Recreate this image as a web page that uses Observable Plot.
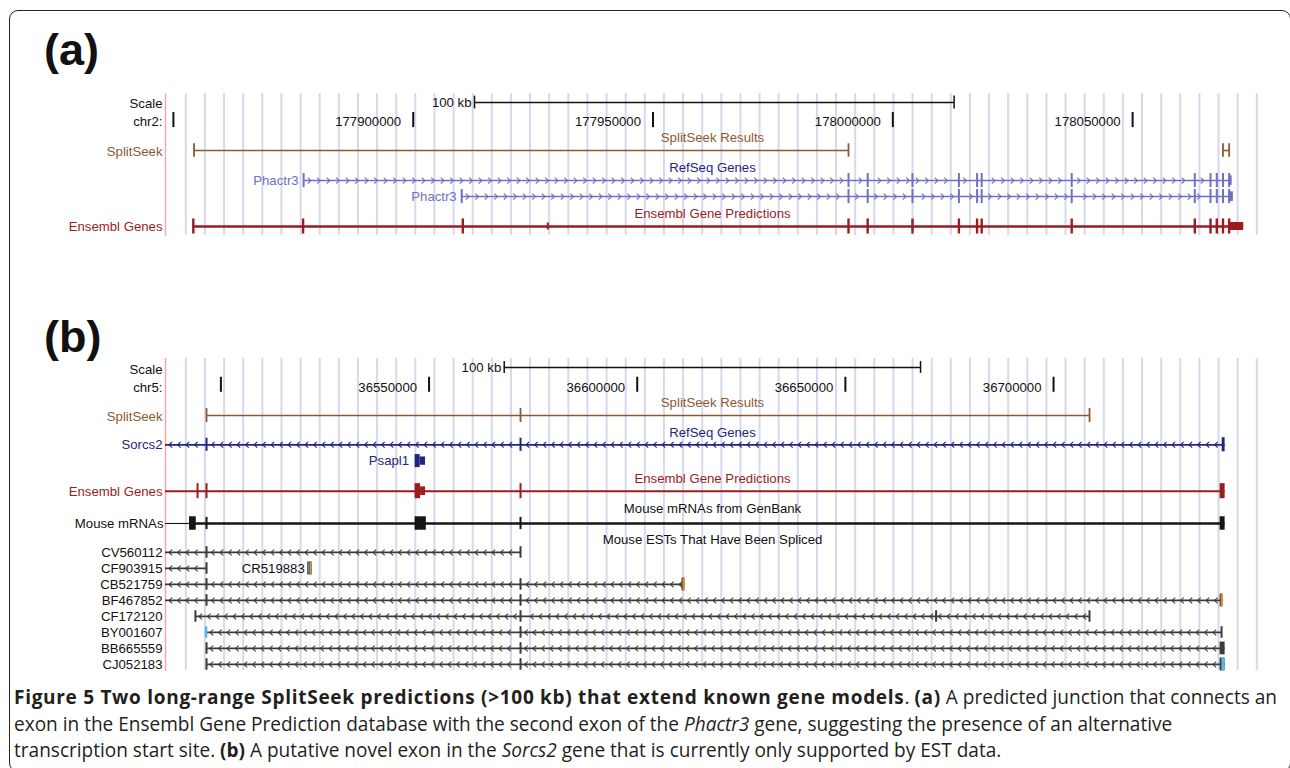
<!DOCTYPE html>
<html><head><meta charset="utf-8">
<script src="https://cdn.jsdelivr.net/npm/d3@7"></script>
<script src="https://cdn.jsdelivr.net/npm/@observablehq/plot@0.6"></script>
<style>
body{margin:0;background:#fff;width:1290px;height:768px;overflow:hidden;position:relative;font-family:"Liberation Sans",Arial,sans-serif}
#frame{position:absolute;left:9px;top:10px;width:1282px;height:762px;border:1.6px solid #222;border-radius:9px;box-sizing:border-box}
.plabel{position:absolute;left:44px;font:bold 45px "Liberation Sans",Arial,sans-serif;line-height:45px;color:#111}
.plot{position:absolute;left:0}
#caption{position:absolute;left:14px;top:684px;font-family:"Open Sans",sans-serif;font-size:16px;line-height:26.5px;color:#231f20;white-space:nowrap}
#caption span{display:inline-block}
</style></head>
<body>
<div id="frame"></div>
<div class="plabel" style="top:27px">(a)</div>
<div class="plabel" style="top:314px">(b)</div>
<div id="plotA" class="plot" style="top:80px"></div>
<div id="plotB" class="plot" style="top:350px"></div>
<div id="caption"><span id="l1"><b>Figure 5 Two long-range SplitSeek predictions (&gt;100 kb) that extend known gene models</b>. <b>(a)</b> A predicted junction that connects an</span><br><span id="l2">exon in the Ensembl Gene Prediction database with the second exon of the <i>Phactr3</i> gene, suggesting the presence of an alternative</span><br><span id="l3">transcription start site. <b>(b)</b> A putative novel exon in the <i>Sorcs2</i> gene that is currently only supported by EST data.</span></div>
<script>
// ================= DATA =================
// Panel (a): chr2 window
const viewA = [177848350, 178075830];
const chr2Ticks = [177850000, 177900000, 177950000, 178000000, 178050000];
const chr2TickLabels = ["", "177900000", "177950000", "178000000", "178050000"];
const scaleBarA = [177912780, 178012780];
const splitSeekA = [[177854300, 177990760], [178068840, 178070130]];
const phactr3Starts = [177877150, 177910110];
const phactr3Ends = [178070740, 178071000];
const phactr3Exons = [177990760, 177994760, 178004100, 178013780, 178017570, 178018530, 178037300, 178062960, 178066240, 178067550, 178068840, 178070130];
const ensemblASpan = [177854150, 178073160];
const ensemblAExons = [177854150, 177877040, 177910340, 177990760, 177994760, 178004100, 178013780, 178017570, 178018530, 178037300, 178062960, 178066240, 178067550, 178068840, 178070130];
const ensemblAUtrTicks = [177928060];
const ensemblALastBlock = [178070130, 178073160];
const gridA = {start: 177852585, step: 3987.6, count: 57};

// Panel (b): chr5 window
const viewB = [36486694, 36748749];
const chr5Ticks = [36500000, 36550000, 36600000, 36650000, 36700000];
const chr5TickLabels = ["", "36550000", "36600000", "36650000", "36700000"];
const scaleBarB = [36568055, 36668055];
const splitSeekB = [36496550, 36571970, 36708640];
const sorcs2End = 36741210;
const sorcs2Exons = [36496550, 36571970];
const sorcs2LastBlock = [36740510, 36741210];
const psapl1Tall = [36546650, 36547860];
const psapl1Short = [36547860, 36549150];
const ensemblBEnd = 36741210;
const ensemblBTicks = [36494390, 36496550, 36571970];
const ensemblBTall = [[36546650, 36547980], [36740010, 36741210]];
const ensemblBShort = [[36547980, 36549150]];
const mrnaStart = 36492470;
const mrnaEnd = 36741210;
const mrnaBlocks = [[36492470, 36494080], [36546650, 36549340], [36740010, 36741210]];
const mrnaTicks = [36496550, 36571970];
const estNames = ["CV560112", "CF903915", "CB521759", "BF467852", "CF172120", "BY001607", "BB665559", "CJ052183"];
const estStarts = [null, null, null, null, 36493880, 36496550, 36496550, 36496550];
const estEnds = [36571970, 36496550, 36611460, 36740700, 36708640, 36740360, 36741210, 36741210];
const estTicks = [
  [36496550, 36571970], [36496550], [36496550, 36571970], [36496550, 36571970],
  [36493880, 36571970, 36671790, 36708640], [36571970, 36740360], [36496550, 36571970], [36496550, 36571970]
];
const estEndBlocks = [null, null, [36610760, 36611460, "orange"], [36740010, 36740700, "orange"], null, null, [36740010, 36741210, "dark"], [36740010, 36741210, "cyan"]];
const estStartBlocks = [null, null, null, null, null, [36496250, 36496850, "cyan"], null, null];
const cr519883 = [36520860, 36521960];
const gridB = {start: 36491578, step: 4593.6, count: 57};

// ================= STYLE / LAYOUT =================
const FONT = '"Liberation Sans", Arial, Helvetica, sans-serif';
const C = {black:"#111", brown:"#8b5a34", refLight:"#7070c2", refNavy:"#25257f", ens:"#9b1b1f",
  grid:"#d8d8ed", pink:"#f4a9a9", est:"#3b3b3b", orange:"#e48a24", cyan:"#55b8e6", mrna:"#151515"};
const rowsA = {scale:0, chr:1.19, ssLabel:2.19, ss:3, refLabel:4.06, ref1:4.88, ref2:5.88, ensLabel:6.94, ens:7.75, top:-0.56, bottom:8.31};
const rowsB = {scale:0, chr:1.25, ssLabel:2.19, ss:3, refLabel:4.06, sorcs2:4.83, psapl1:5.85, ensLabel:6.94, ens:7.73,
  mrnaLabel:8.81, mrna:9.75, estLabel:10.75, est0:11.56, top:-0.56, bottom:18.94};

const chevR = {draw(ctx, size){ const r = Math.sqrt(size/Math.PI), w = r*0.55; ctx.moveTo(-w,-r); ctx.lineTo(w,0); ctx.lineTo(-w,r); }};
const chevL = {draw(ctx, size){ const r = Math.sqrt(size/Math.PI), w = r*0.55; ctx.moveTo(w,-r); ctx.lineTo(-w,0); ctx.lineTo(w,r); }};

function line(x1, x2, y, stroke, w){ return Plot.ruleY([{x1, x2, y}], {x1:"x1", x2:"x2", y:"y", stroke, strokeWidth:w}); }
function ticks(xs, y, h, stroke, w = 2){ return Plot.ruleX(xs.map(x => ({x})), {x:"x", y1:y-h, y2:y+h, stroke, strokeWidth:w}); }
function blocks(bs, y, h, fill){ return Plot.rect(bs.map(([a, b]) => ({a, b})), {x1:"a", x2:"b", y1:y-h, y2:y+h, fill}); }
function label(x, y, text, fill, anchor, dx = 0, size = 13.2){
  return Plot.text([{x, y, text}], {x:"x", y:"y", text:"text", fill, textAnchor:anchor, dx, fontSize:size, fontFamily:FONT});
}
function chevrons(start, end, stops, y, dir, stepBp, gapBp, stroke){
  const pts = [];
  for (let x = start + stepBp*0.6; x < end - gapBp*0.6; x += stepBp) {
    if (stops.every(s => Math.abs(s - x) > gapBp)) pts.push({x});
  }
  return Plot.dot(pts, {x:"x", y, r:2.9, symbol: dir > 0 ? chevR : chevL, stroke, fill:"none", strokeWidth:1.1});
}
function gridMarks(g, rows){
  const xs = d3.range(g.count).map(i => g.start + i*g.step);
  return Plot.ruleX(xs, {y1: rows.top, y2: rows.bottom, stroke: C.grid, strokeWidth: 2});
}
function panel(view, yRange, height, marks){
  return Plot.plot({width:1290, height, margin:0,
    x:{domain:view, range:[165, 1256], axis:null},
    y:{domain:[0, 1], range:yRange, axis:null},
    style:{fontFamily:FONT, fontSize:"13px", background:"transparent", overflow:"visible"},
    marks});
}

// ================= PANEL A =================
{
  const R = rowsA, v = viewA, mid = (v[0] + v[1]) / 2;
  const bpPx = (v[1] - v[0]) / (1256 - 165);
  const stepBp = 9.5*bpPx, gapBp = 4*bpPx;
  const marks = [
    gridMarks(gridA, R),
    Plot.ruleX([v[0]], {y1:R.top, y2:R.bottom + 0.06, stroke:C.pink, strokeWidth:1.5}),
    label(v[0], R.scale + 0.1, "Scale", C.black, "end", -3),
    line(scaleBarA[0], scaleBarA[1], R.scale, C.black, 1.5),
    ticks(scaleBarA, R.scale, 0.4, C.black, 1.5),
    label(scaleBarA[0], R.scale, "100 kb", C.black, "end", -3),
    label(v[0], R.chr, "chr2:", C.black, "end", -3),
    Plot.ruleX(chr2Ticks, {y1:R.chr - 0.56, y2:R.chr + 0.38, stroke:C.black, strokeWidth:2}),
    Plot.text(chr2Ticks.map((t, i) => ({t, s: chr2TickLabels[i]})), {x:"t", y:R.chr + 0.04, text:"s", textAnchor:"end", dx:-12, fill:C.black, fontSize:13.2}),
    label(mid, R.ssLabel, "SplitSeek Results", C.brown, "middle", 1.5),
    label(v[0], R.ss + 0.06, "SplitSeek", C.brown, "end", -3),
    ...splitSeekA.map(([a, b]) => line(a, b, R.ss, C.brown, 1.6)),
    ticks(splitSeekA.flat(), R.ss, 0.42, C.brown, 1.8),
    label(mid, R.refLabel, "RefSeq Genes", C.refNavy, "middle", 1.5),
  ];
  [R.ref1, R.ref2].forEach((y, i) => {
    const s = phactr3Starts[i], e = phactr3Ends[i];
    marks.push(
      line(s, e, y, C.refLight, 1.5),
      chevrons(s, e, phactr3Exons, y, 1, stepBp, gapBp, C.refLight),
      ticks([s, ...phactr3Exons], y, 0.44, C.refLight, 2),
      blocks([[phactr3Exons[phactr3Exons.length - 1], e]], y, 0.3, C.refLight),
      label(s, y, "Phactr3", C.refLight, "end", -5)
    );
  });
  marks.push(
    label(mid, R.ensLabel, "Ensembl Gene Predictions", C.ens, "middle", 1.5),
    label(v[0], R.ens, "Ensembl Genes", C.ens, "end", -3),
    line(ensemblASpan[0], ensemblASpan[1], R.ens, C.ens, 2.6),
    ticks(ensemblAExons, R.ens, 0.47, C.ens, 2.4),
    ticks(ensemblAUtrTicks, R.ens, 0.22, C.ens, 2),
    blocks([ensemblALastBlock], R.ens, 0.25, C.ens)
  );
  document.getElementById("plotA").append(panel(v, [22, 38], 165, marks));
}

// ================= PANEL B =================
{
  const R = rowsB, v = viewB, mid = (v[0] + v[1]) / 2;
  const bpPx = (v[1] - v[0]) / (1256 - 165);
  const stepBp = 8.5*bpPx, gapBp = 3.5*bpPx;
  const marks = [
    gridMarks(gridB, R),
    Plot.ruleX([v[0]], {y1:R.top, y2:R.bottom + 0.06, stroke:C.pink, strokeWidth:1.5}),
    label(v[0], R.scale + 0.14, "Scale", C.black, "end", -3),
    line(scaleBarB[0], scaleBarB[1], R.scale, C.black, 1.5),
    ticks(scaleBarB, R.scale, 0.37, C.black, 1.5),
    label(scaleBarB[0], R.scale, "100 kb", C.black, "end", -3),
    label(v[0], R.chr, "chr5:", C.black, "end", -3),
    Plot.ruleX(chr5Ticks, {y1:R.chr - 0.64, y2:R.chr + 0.3, stroke:C.black, strokeWidth:2}),
    Plot.text(chr5Ticks.map((t, i) => ({t, s: chr5TickLabels[i]})), {x:"t", y:R.chr, text:"s", textAnchor:"end", dx:-12, fill:C.black, fontSize:13.2}),
    label(mid, R.ssLabel, "SplitSeek Results", C.brown, "middle", 1.5),
    label(v[0], R.ss + 0.06, "SplitSeek", C.brown, "end", -3),
    line(splitSeekB[0], splitSeekB[splitSeekB.length - 1], R.ss, C.brown, 1.6),
    ticks(splitSeekB, R.ss, 0.44, C.brown, 1.8),
    label(mid, R.refLabel, "RefSeq Genes", C.refNavy, "middle", 1.5),
    label(v[0], R.sorcs2, "Sorcs2", C.refNavy, "end", -3),
    line(v[0], sorcs2End, R.sorcs2, C.refNavy, 1.8),
    chevrons(v[0], sorcs2LastBlock[0], sorcs2Exons, R.sorcs2, -1, stepBp, gapBp, C.refNavy),
    ticks(sorcs2Exons, R.sorcs2, 0.41, C.refNavy, 2),
    blocks([sorcs2LastBlock], R.sorcs2, 0.44, C.refNavy),
    blocks([psapl1Tall], R.psapl1, 0.41, C.refNavy),
    blocks([psapl1Short], R.psapl1, 0.26, C.refNavy),
    label(psapl1Tall[0], R.psapl1, "Psapl1", C.refNavy, "end", -6),
    label(mid, R.ensLabel, "Ensembl Gene Predictions", C.ens, "middle", 1.5),
    label(v[0], R.ens + 0.05, "Ensembl Genes", C.ens, "end", -3),
    line(v[0], ensemblBEnd, R.ens, C.ens, 2),
    ticks(ensemblBTicks, R.ens, 0.47, C.ens, 2),
    blocks(ensemblBTall, R.ens, 0.47, C.ens),
    blocks(ensemblBShort, R.ens, 0.27, C.ens),
    label(mid, R.mrnaLabel, "Mouse mRNAs from GenBank", C.black, "middle", 1.5),
    label(v[0], R.mrna, "Mouse mRNAs", C.black, "end", -2),
    line(v[0], mrnaStart, R.mrna, C.mrna, 1.1),
    line(mrnaStart, mrnaEnd, R.mrna, C.mrna, 2.6),
    blocks(mrnaBlocks, R.mrna, 0.42, C.mrna),
    ticks(mrnaTicks, R.mrna, 0.38, C.mrna, 2),
    label(mid, R.estLabel, "Mouse ESTs That Have Been Spliced", C.black, "middle", 1.5)
  ];
  const colorOf = k => k === "orange" ? C.orange : k === "cyan" ? C.cyan : C.est;
  estNames.forEach((name, i) => {
    const y = R.est0 + i;
    const s = estStarts[i] == null ? v[0] : estStarts[i], e = estEnds[i];
    marks.push(
      label(v[0], y, name, C.black, "end", -3),
      line(s, e, y, C.est, 1.8),
      chevrons(s, e, estTicks[i].concat(estStarts[i] == null ? [] : [s]), y, -1, stepBp, gapBp, C.est),
      ticks(estTicks[i], y, 0.36, C.est, 2)
    );
    if (estEndBlocks[i]) {
      const [a, b, k] = estEndBlocks[i];
      marks.push(blocks([[a, b]], y, 0.4, C.est));
      if (k !== "dark") marks.push(blocks([[a + (b - a)*0.35, b]], y, 0.4, colorOf(k)));
    }
    if (estStartBlocks[i]) {
      const [a, b, k] = estStartBlocks[i];
      marks.push(blocks([[a, b]], y, 0.36, colorOf(k)));
    }
  });
  const crY = R.est0 + 1;
  marks.push(
    blocks([cr519883], crY, 0.4, C.est),
    blocks([[cr519883[0] + (cr519883[1] - cr519883[0])*0.25, cr519883[0] + (cr519883[1] - cr519883[0])*0.5]], crY, 0.34, C.cyan),
    blocks([[cr519883[0] + (cr519883[1] - cr519883[0])*0.6, cr519883[1]]], crY, 0.4, C.orange),
    label(cr519883[0], crY, "CR519883", C.black, "end", -3)
  );
  document.getElementById("plotB").append(panel(v, [17, 33], 330, marks));
}

// caption: fit line widths to the reference (line 2 ends near x=1173, line 1 near x=1277)
{
  const cap = document.getElementById("caption");
  const l1 = document.getElementById("l1"), l2 = document.getElementById("l2");
  const w2 = l2.getBoundingClientRect().width;
  cap.style.fontSize = (16 * 1159 / w2).toFixed(2) + "px";
  const w1 = l1.getBoundingClientRect().width;
  const bolds = Array.from(l1.querySelectorAll("b"));
  const n = bolds.reduce((s, b) => s + b.textContent.length, 0);
  const ls = Math.max(0, (1263 - w1) / n);
  bolds.forEach(b => b.style.letterSpacing = ls.toFixed(3) + "px");
}
</script>
</body></html>
